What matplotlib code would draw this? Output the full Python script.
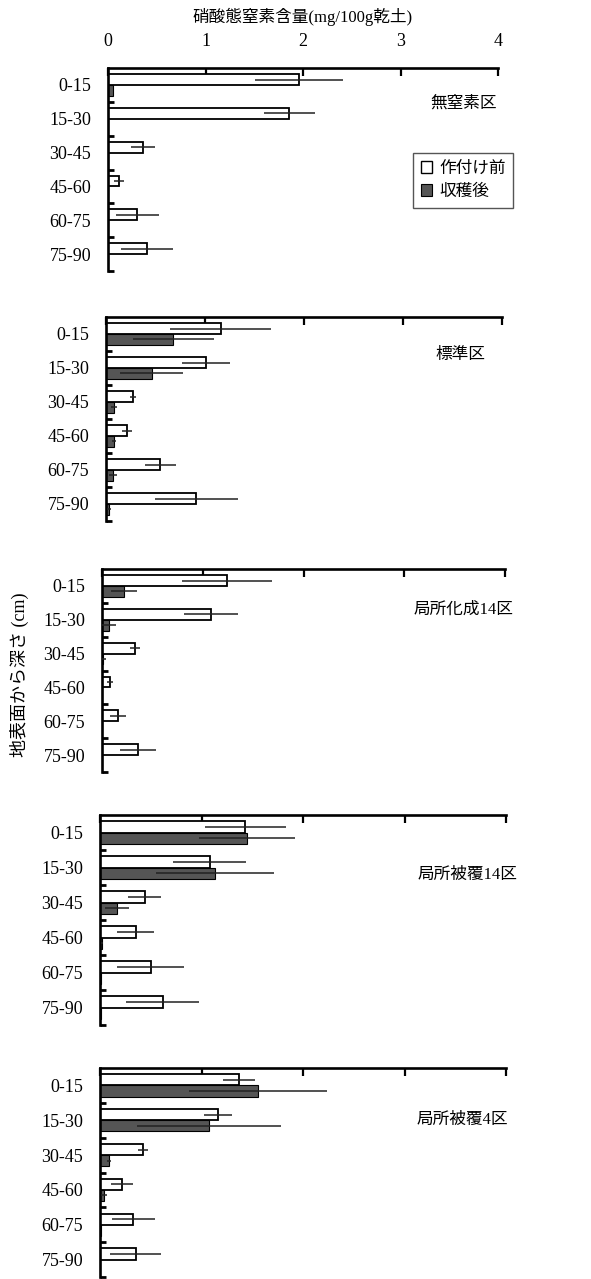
import matplotlib
matplotlib.use("Agg")
import matplotlib.pyplot as plt
from matplotlib.patches import Patch
import numpy as np

plt.rcParams['font.family'] = ['Liberation Serif', 'Noto Sans CJK JP']

depths = ['0-15', '15-30', '30-45', '45-60', '60-75', '75-90']
series_names = ['作付け前', '収穫後']
x_ticks = [0, 1, 2, 3, 4]
x_label = '硝酸態窒素含量(mg/100g乾土)'
y_label = '地表面から深さ (cm)'

plot_names = ['無窒素区', '標準区', '局所化成14区', '局所被覆14区', '局所被覆4区']

before_vals = [
    [1.96, 1.86, 0.36, 0.11, 0.30, 0.40],
    [1.16, 1.01, 0.27, 0.21, 0.55, 0.91],
    [1.24, 1.08, 0.33, 0.08, 0.16, 0.36],
    [1.43, 1.08, 0.44, 0.35, 0.50, 0.62],
    [1.37, 1.16, 0.42, 0.22, 0.33, 0.35],
]
before_err = [
    [0.45, 0.26, 0.12, 0.05, 0.22, 0.27],
    [0.51, 0.24, 0.03, 0.05, 0.16, 0.42],
    [0.45, 0.27, 0.05, 0.03, 0.08, 0.18],
    [0.40, 0.36, 0.16, 0.18, 0.33, 0.36],
    [0.16, 0.14, 0.05, 0.11, 0.21, 0.25],
]
after_vals = [
    [0.05, 0.0, 0.0, 0.0, 0.0, 0.0],
    [0.68, 0.46, 0.08, 0.08, 0.07, 0.03],
    [0.22, 0.07, 0.01, 0.0, 0.0, 0.0],
    [1.45, 1.13, 0.17, 0.02, 0.01, 0.01],
    [1.56, 1.07, 0.09, 0.04, 0.01, 0.0],
]
after_err = [
    [0.0, 0.0, 0.0, 0.0, 0.0, 0.0],
    [0.41, 0.32, 0.03, 0.02, 0.04, 0.02],
    [0.13, 0.07, 0.03, 0.0, 0.0, 0.0],
    [0.47, 0.58, 0.12, 0.01, 0.0, 0.0],
    [0.68, 0.71, 0.02, 0.03, 0.0, 0.0],
]

W, H = 591, 1279
fig = plt.figure(figsize=(W / 100, H / 100), dpi=100)

# pixel boxes (left, right, top, bottom)
boxes = [
    (108, 498, 68, 271),
    (106, 502, 317, 521),
    (102, 505, 569, 772),
    (100, 506, 815, 1025),
    (100, 506, 1068, 1277),
]
label_pos = [(497, 104), (485, 355), (513, 610), (517, 875), (508, 1120)]

dark = '#555555'
pos = np.arange(len(depths))
bh = 0.32

for i in range(5):
    l, r, t, b = boxes[i]
    ax = fig.add_axes([l / W, 1 - b / H, (r - l) / W, (b - t) / H])
    ax.barh(pos - bh / 2, before_vals[i], height=bh, color='white',
            edgecolor='black', linewidth=1.3, zorder=2)
    ax.barh(pos + bh / 2, after_vals[i], height=bh, color=dark,
            edgecolor='black', linewidth=0.8, zorder=2)
    be = np.array(before_err[i]); ae = np.array(after_err[i])
    mb = be > 0; ma = ae > 0
    ax.errorbar(np.array(before_vals[i])[mb], (pos - bh / 2)[mb], xerr=be[mb],
                fmt='none', ecolor='#222222', elinewidth=1.1, capsize=0, zorder=3)
    if ma.any():
        ax.errorbar(np.array(after_vals[i])[ma], (pos + bh / 2)[ma], xerr=ae[ma],
                    fmt='none', ecolor='#222222', elinewidth=1.1, capsize=0, zorder=3)
    ax.set_xlim(0, 4)
    ax.set_ylim(5.5, -0.5)
    for s in ['right', 'bottom']:
        ax.spines[s].set_visible(False)
    for s in ['top', 'left']:
        ax.spines[s].set_linewidth(1.9)
    ax.xaxis.tick_top()
    ax.set_xticks(x_ticks)
    ax.tick_params(axis='x', direction='in', length=6, width=1.6,
                   labelsize=13, pad=13, labeltop=(i == 0))
    ax.set_yticks(pos)
    ax.set_yticklabels(depths)
    ax.set_yticks(np.arange(0.5, 6, 1), minor=True)
    ax.tick_params(axis='y', which='major', length=0, labelsize=13, pad=12)
    ax.tick_params(axis='y', which='minor', direction='in', length=4, width=2)
    lx, ly = label_pos[i]
    fig.text(lx / W, 1 - ly / H, plot_names[i], ha='right', va='center', fontsize=12)
    if i == 0:
        handles = [Patch(facecolor='white', edgecolor='black', linewidth=1.0),
                   Patch(facecolor=dark, edgecolor='black', linewidth=0.8)]
        leg = fig.legend(handles, series_names, loc='upper right',
                         bbox_to_anchor=(513 / W, 1 - 153 / H), fontsize=12,
                         handlelength=0.7, handleheight=0.7, handletextpad=0.4,
                         borderpad=0.45, labelspacing=0.45, fancybox=False,
                         framealpha=1, edgecolor='#555555', borderaxespad=0)
        leg.get_frame().set_linewidth(1.0)

fig.text(303 / W, 1 - 17 / H, x_label, ha='center', va='center', fontsize=12)
fig.text(19 / W, 1 - 675 / H, y_label, ha='center', va='center', rotation=90, fontsize=13)

fig.savefig('out.png', dpi=100)
